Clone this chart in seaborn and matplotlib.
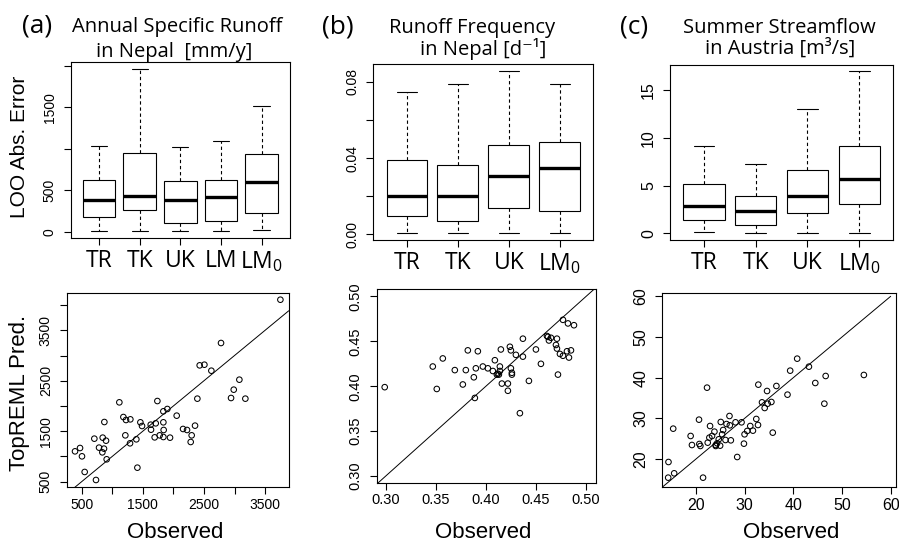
import numpy as np
import pandas as pd
import seaborn as sns
import matplotlib
matplotlib.use("Agg")
import matplotlib.pyplot as plt

# ---------------- data ----------------
# (a) annual specific runoff, Nepal: LOO absolute error, five-number summaries
runoff_models = ["TR", "TK", "UK", "LM", "LM$_0$"]
runoff_min = [8, 12, 4, 12, 20]
runoff_q1 = [181, 261, 109, 133, 229]
runoff_med = [378, 430, 386, 414, 595]
runoff_q3 = [624, 953, 611, 624, 937]
runoff_max = [1030, 1967, 1026, 1098, 1521]

# (b) runoff frequency, Nepal
freq_models = ["TR", "TK", "UK", "LM$_0$"]
freq_min = [0.0005, 0.0005, 0.0007, 0.0005]
freq_q1 = [0.0094, 0.0072, 0.0136, 0.0121]
freq_med = [0.0203, 0.0203, 0.0307, 0.0346]
freq_q3 = [0.0388, 0.0362, 0.0470, 0.0482]
freq_max = [0.0746, 0.0790, 0.0856, 0.0790]

# (c) summer streamflow, Austria
flow_models = ["TR", "TK", "UK", "LM$_0$"]
flow_min = [0.17, 0.0, 0.03, 0.03]
flow_q1 = [1.36, 0.84, 2.10, 3.04]
flow_med = [2.87, 2.34, 3.95, 5.70]
flow_q3 = [5.21, 3.95, 6.61, 9.20]
flow_max = [9.20, 7.31, 13.04, 17.03]

# observed vs TopREML predictions
runoff_obs = [3750, 2779, 2430, 2507, 2621, 3079, 2987, 2943, 3177, 2392,
              1116, 1738, 1901, 1836, 2054, 1182, 1225, 1296, 871, 1460,
              1487, 1711, 1629, 1634, 1836, 2158, 2223, 2354, 1841, 1776,
              1694, 1836, 1945, 2299, 2283, 1214, 1394, 1291, 707, 844,
              898, 784, 865, 838, 473, 391, 505, 909, 549, 1411, 734]
runoff_pred = [4106, 3248, 2805, 2818, 2699, 2521, 2323, 2158, 2145, 2145,
               2072, 2098, 1940, 1894, 1808, 1781, 1722, 1735, 1682, 1676,
               1603, 1656, 1629, 1530, 1676, 1544, 1524, 1610, 1524, 1418,
               1378, 1385, 1372, 1418, 1286, 1418, 1339, 1260, 1352, 1372,
               1312, 1174, 1154, 1081, 1167, 1101, 1002, 943, 692, 777, 533]

freq_obs = [0.299, 0.347, 0.357, 0.351, 0.369, 0.380, 0.382, 0.392, 0.377, 0.388,
            0.390, 0.389, 0.397, 0.402, 0.407, 0.409, 0.411, 0.414, 0.414, 0.413,
            0.415, 0.424, 0.425, 0.430, 0.425, 0.426, 0.426, 0.416, 0.422, 0.422,
            0.434, 0.437, 0.437, 0.443, 0.450, 0.455, 0.461, 0.462, 0.465, 0.463,
            0.470, 0.471, 0.471, 0.474, 0.477, 0.477, 0.482, 0.488, 0.481, 0.485,
            0.483, 0.472, 0.412]
freq_pred = [0.399, 0.422, 0.431, 0.397, 0.418, 0.418, 0.440, 0.439, 0.402, 0.410,
             0.420, 0.387, 0.422, 0.420, 0.417, 0.429, 0.413, 0.422, 0.417, 0.413,
             0.441, 0.444, 0.440, 0.435, 0.420, 0.415, 0.413, 0.403, 0.403, 0.395,
             0.370, 0.453, 0.433, 0.406, 0.441, 0.425, 0.456, 0.455, 0.454, 0.451,
             0.446, 0.453, 0.442, 0.436, 0.434, 0.474, 0.470, 0.468, 0.439, 0.440,
             0.432, 0.413, 0.414]

flow_obs = [14.35, 14.29, 15.52, 15.32, 21.45, 18.9, 19.17, 20.62, 20.69, 20.9,
            22.27, 22.89, 22.41, 22.75, 23.79, 23.3, 24.06, 24.34, 24.06, 24.68,
            24.96, 25.09, 25.58, 25.37, 26.06, 26.27, 26.95, 26.88, 27.16, 28.12,
            29.36, 28.47, 29.85, 29.98, 30.53, 31.15, 31.7, 32.39, 32.74, 32.81,
            33.56, 34.11, 34.6, 34.73, 35.49, 35.77, 36.52, 38.8, 39.35, 40.79,
            43.2, 44.51, 46.64, 46.37, 54.49]
flow_pred = [19.26, 15.41, 16.48, 27.46, 15.41, 25.66, 23.44, 29.67, 23.69, 23.2,
             37.54, 28.11, 24.02, 25.25, 26.72, 25.66, 23.44, 23.85, 23.2, 24.84,
             23.28, 29.1, 27.13, 26.07, 24.67, 28.6, 28.28, 30.57, 24.59, 29.02,
             29.02, 20.49, 23.77, 26.07, 26.89, 28.11, 26.97, 29.84, 28.36, 38.28,
             33.93, 32.54, 36.72, 33.6, 34.02, 26.48, 37.95, 35.82, 41.72, 44.67,
             42.7, 38.69, 40.41, 33.6, 40.66]
flow_line = [0, 60]   # 1:1 line in (c) stops at 60

# ---------------- style ----------------
sns.set_style("ticks")
plt.rcParams["font.family"] = ["Liberation Sans", "DejaVu Sans"]
plt.rcParams["mathtext.default"] = "regular"
plt.rcParams.update({
    "text.color": "black",
    "axes.labelcolor": "black",
    "axes.edgecolor": "black",
    "axes.linewidth": 0.8,
    "xtick.color": "black",
    "ytick.color": "black",
    "xtick.major.size": 5,
    "ytick.major.size": 5,
    "xtick.major.width": 0.8,
    "ytick.major.width": 0.8,
    "xtick.labelsize": 10,
    "ytick.labelsize": 10,
})
TITLE_FONT = ["Open Sans", "DejaVu Sans"]

W, H = 899, 543
fig = plt.figure(figsize=(W / 100, H / 100), dpi=100)


def px_axes(l, t, r, b):
    return fig.add_axes([l / W, 1 - b / H, (r - l) / W, (b - t) / H])


def px_text(x, y, s, **kw):
    fig.text(x / W, 1 - y / H, s, **kw)


def box_panel(ax, models, mins, q1s, meds, q3s, maxs):
    rows = []
    for i, m in enumerate(models):
        for v in (mins[i], q1s[i], meds[i], q3s[i], maxs[i]):
            rows.append((m, v))
    df = pd.DataFrame(rows, columns=["model", "value"])
    sns.boxplot(data=df, x="model", y="value", ax=ax, whis=(0, 100),
                width=0.8, color="white", linecolor="black", linewidth=0.8,
                showfliers=False, medianprops={"linewidth": 2.4},
                whiskerprops={"linestyle": (0, (3, 2.5))})
    n = len(models)
    ax.set_xlim(-0.5 - 0.04 * n, n - 0.5 + 0.04 * n)
    ax.set_xticks(range(n))
    ax.set_xticklabels(models, fontfamily=TITLE_FONT, fontsize=16.5)
    ax.tick_params(axis="x", pad=3)
    ax.set(xlabel="", ylabel="")


def scatter_panel(ax, obs, pred):
    sns.scatterplot(x=obs, y=pred, ax=ax, marker="o", s=16,
                    facecolor="none", edgecolor="black", linewidth=0.75)
    ax.set(xlabel="", ylabel="")
    ax.tick_params(axis="x", pad=2.5)


def rot_yticks(ax, ticks, labels):
    ax.set_yticks(ticks)
    ax.set_yticklabels(labels, rotation=90, va="center")
    ax.tick_params(axis="y", pad=5)


# ---------------- top row: boxplots ----------------
ax = px_axes(70.7, 62.3, 290, 238.3)
box_panel(ax, runoff_models, runoff_min, runoff_q1, runoff_med, runoff_q3, runoff_max)
ax.set_ylim(-79, 2045)
rot_yticks(ax, [0, 500, 1000, 1500, 2000], ["0", "500", "", "1500", ""])

ax = px_axes(373.3, 64, 593.3, 240)
box_panel(ax, freq_models, freq_min, freq_q1, freq_med, freq_q3, freq_max)
ax.set_ylim(-0.003, 0.0893)
rot_yticks(ax, [0, 0.02, 0.04, 0.06, 0.08], ["0.00", "", "0.04", "", "0.08"])

ax = px_axes(670, 65, 893.3, 240)
box_panel(ax, flow_models, flow_min, flow_q1, flow_med, flow_q3, flow_max)
ax.set_ylim(-0.70, 17.66)
rot_yticks(ax, [0, 5, 10, 15], ["0", "5", "10", "15"])
ax.tick_params(axis="y", labelsize=11.5)

# ---------------- bottom row: observed vs predicted ----------------
ax = px_axes(66.7, 292.7, 288.7, 487.3)
scatter_panel(ax, runoff_obs, runoff_pred)
ax.axline((0, 0), slope=1, color="black", lw=0.7)
ax.set_xlim(255, 3886)
ax.set_ylim(388, 4245)
ax.set_xticks(range(500, 4000, 500))
ax.set_xticklabels(["500", "", "1500", "", "2500", "", "3500"])
rot_yticks(ax, list(range(500, 4500, 500)),
           ["500", "", "1500", "", "2500", "", "3500", ""])

ax = px_axes(376.7, 289.3, 596, 482.7)
scatter_panel(ax, freq_obs, freq_pred)
ax.axline((0, 0), slope=1, color="black", lw=0.7)
ax.set_xlim(0.291, 0.510)
ax.set_ylim(0.2926, 0.508)
fticks = [0.30, 0.35, 0.40, 0.45, 0.50]
ax.set_xticks(fticks)
ax.set_xticklabels([f"{t:.2f}" for t in fticks])
rot_yticks(ax, fticks, [f"{t:.2f}" for t in fticks])
ax.tick_params(labelsize=10.5)

ax = px_axes(662.3, 293.3, 896, 487.3)
scatter_panel(ax, flow_obs, flow_pred)
ax.plot(flow_line, flow_line, color="black", lw=0.7)
ax.set_xlim(13.08, 61.09)
ax.set_ylim(13.04, 60.74)
cticks = [20, 30, 40, 50, 60]
ax.set_xticks(cticks)
rot_yticks(ax, cticks, [str(t) for t in cticks])
ax.tick_params(labelsize=11.5)

# ---------------- titles and axis labels ----------------
tkw = dict(fontfamily=TITLE_FONT, fontsize=14.5, ha="center", va="baseline")
lkw = dict(fontfamily=TITLE_FONT, fontsize=19, ha="left", va="baseline")
px_text(21.7, 32.5, "(a)", **lkw)
px_text(177, 31.7, "Annual Specific Runoff", **tkw)
px_text(174.3, 57.5, "in Nepal  [mm/y]", **tkw)
px_text(321.7, 33, "(b)", **lkw)
px_text(472.5, 33, "Runoff Frequency", **tkw)
px_text(483.3, 54.5, "in Nepal [d\u207b\u00b9]", **tkw)
px_text(620, 33, "(c)", **lkw)
px_text(779.3, 33, "Summer Streamflow", **tkw)
px_text(780, 53.5, "in Austria [m\u00b3/s]", **tkw)

px_text(20, 146.5, "LOO Abs. Error", fontsize=15, rotation=90, ha="center", va="center")
px_text(20, 393, "TopREML Pred.", fontsize=16, rotation=90, ha="center", va="center")
for cx in (175.5, 483, 791.5):
    px_text(cx, 537.5, "Observed", fontsize=16, ha="center", va="baseline")

fig.savefig("out.png", dpi=100)
